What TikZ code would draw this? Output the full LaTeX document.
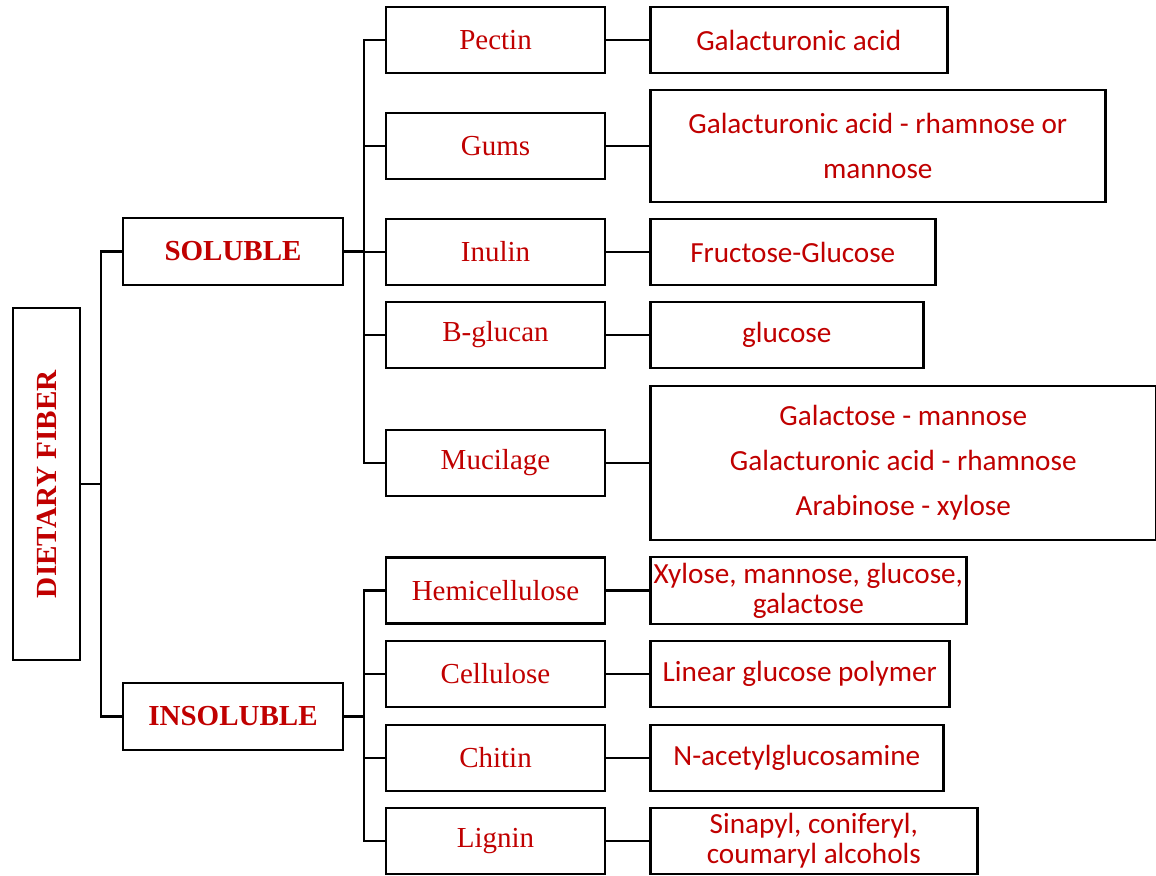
\documentclass[tikz,border=0pt]{standalone}
\usepackage{fontspec}
\setmainfont{Liberation Serif}
\newfontfamily\calib{Carlito}
\usetikzlibrary{positioning, calc}

\definecolor{fibred}{HTML}{C00000}

\begin{document}
\begin{tikzpicture}[
    x=0.5pt, y=-0.5pt,
    box/.style={rectangle, draw, line width=1.3pt, inner sep=0pt,
                align=center, text=fibred},
    root/.style={box, minimum width=176pt, minimum height=33.5pt,
                 font=\fontsize{14.6}{17}\selectfont\bfseries},
    group/.style={box, minimum width=110pt, minimum height=33.5pt,
                  font=\fontsize{14.5}{17}\selectfont\bfseries},
    kind/.style={box, minimum width=109.5pt, minimum height=33pt,
                 font=\fontsize{14.5}{17}\selectfont},
    unit/.style={box, anchor=west, minimum height=33pt,
                 font=\calib\fontsize{14.6}{15}\selectfont},
    link/.style={line width=1.2pt}
]
  \useasboundingbox (0,0) rectangle (1156,875);

  % root and the two groups
  \node[root, rotate=90] (df) at (46.5,484) {DIETARY FIBER};
  \node[group] (sol) at (233,251.5) {SOLUBLE};
  \node[group] (insol) at (233,716.5) {INSOLUBLE};

  % soluble fibres
  \node[kind] (pectin) at (495.5,40) {Pectin};
  \node[kind] (gums) at (495.5,146) {Gums};
  \node[kind] (inulin) at (495.5,252) {Inulin};
  \node[kind] (bglucan) at (495.5,335) {B-glucan};
  \node[kind] (mucilage) at (495.5,463) {Mucilage};

  % insoluble fibres
  \node[kind] (hemi) at (495.5,590.5) {Hemicellulose};
  \node[kind] (cellulose) at (495.5,674) {Cellulose};
  \node[kind] (chitin) at (495.5,758) {Chitin};
  \node[kind] (lignin) at (495.5,841) {Lignin};

  % monomer units
  \node[unit, minimum width=148.5pt] (pectinu) at (649,40) {Galacturonic acid};
  \node[unit, minimum width=227.5pt, minimum height=56pt,
        font=\calib\fontsize{14.6}{22.5}\selectfont] (gumsu) at (649,146)
        {Galacturonic acid - rhamnose or\\mannose};
  \node[unit, minimum width=142.5pt] (inulinu) at (649,252) {Fructose-Glucose};
  \node[unit, minimum width=136.5pt] (bglucanu) at (649,335) {glucose};
  \node[unit, minimum width=253pt, minimum height=77pt,
        font=\calib\fontsize{14.6}{22.5}\selectfont] (mucilageu) at (649,463)
        {Galactose - mannose\\Galacturonic acid - rhamnose\\Arabinose - xylose};
  \node[unit, minimum width=158pt, minimum height=33.5pt] (hemiu) at (649,590.5)
        {Xylose, mannose, glucose,\\galactose};
  \node[unit, minimum width=149.5pt] (celluloseu) at (649,674) {Linear glucose polymer};
  \node[unit, minimum width=146.5pt] (chitinu) at (649,758) {N-acetylglucosamine};
  \node[unit, minimum width=163.5pt] (ligninu) at (649,841)
        {Sinapyl, coniferyl,\\coumaryl alcohols};

  % buses
  \coordinate (trunk) at (101,484);
  \coordinate (solbus) at (364,251.5);
  \coordinate (insolbus) at (364,716.5);

  \draw[link] (df.south) -- (trunk);
  \draw[link] (trunk) |- (sol.west);
  \draw[link] (trunk) |- (insol.west);

  \draw[link] (sol.east) -- (solbus);
  \foreach \n in {pectin, gums, inulin, bglucan, mucilage}
    \draw[link] (solbus) |- (\n.west);

  \draw[link] (insol.east) -- (insolbus);
  \foreach \n in {hemi, cellulose, chitin, lignin}
    \draw[link] (insolbus) |- (\n.west);

  \foreach \n in {pectin, gums, inulin, bglucan, mucilage,
                  hemi, cellulose, chitin, lignin}
    \draw[link] (\n.east) -- (\n u.west);
\end{tikzpicture}
\end{document}
